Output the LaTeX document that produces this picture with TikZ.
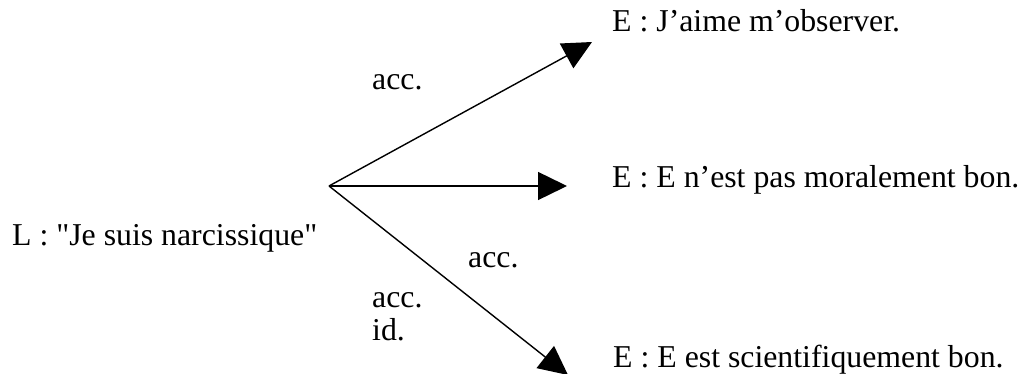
\documentclass[tikz,border=0pt]{standalone}
\usepackage{fontspec}
\setmainfont{Liberation Serif}[Ligatures=TeXOff]
\usetikzlibrary{arrows.meta}
\begin{document}
\begin{tikzpicture}[x=1pt,y=-1pt,
  lbl/.style={anchor=base west,inner sep=0pt,font=\fontsize{31.8}{38}\selectfont},
  conn/.style={line width=1.4pt,-{Triangle[length=29pt,width=28pt]}}]
\useasboundingbox (0,0) rectangle (1024,374);
\fill[white] (0,0) rectangle (1024,374);
\node[lbl] (L) at (12,245) {L : "Je suis narcissique"};
\node[lbl] (e1) at (612,32) {E : J’aime m’observer.};
\node[lbl] (e2) at (612,187) {E : E n’est pas moralement bon.};
\node[lbl] (e3) at (613,367) {E : E est scientifiquement bon.};
\node[lbl] (a1) at (372,90) {acc.};
\node[lbl] (a2) at (468,267) {acc.};
\node[lbl] (a3) at (372,307) {acc.};
\node[lbl] (a4) at (372,340) {id.};
\coordinate (o) at (329,186);
\coordinate (t1) at (592,42);
\coordinate (t2) at (567,186);
\coordinate (t3) at (568,375);
\draw[conn] (o) -- (t1);
\draw[conn] (o) -- (t2);
\draw[conn] (o) -- (t3);
\end{tikzpicture}
\end{document}
